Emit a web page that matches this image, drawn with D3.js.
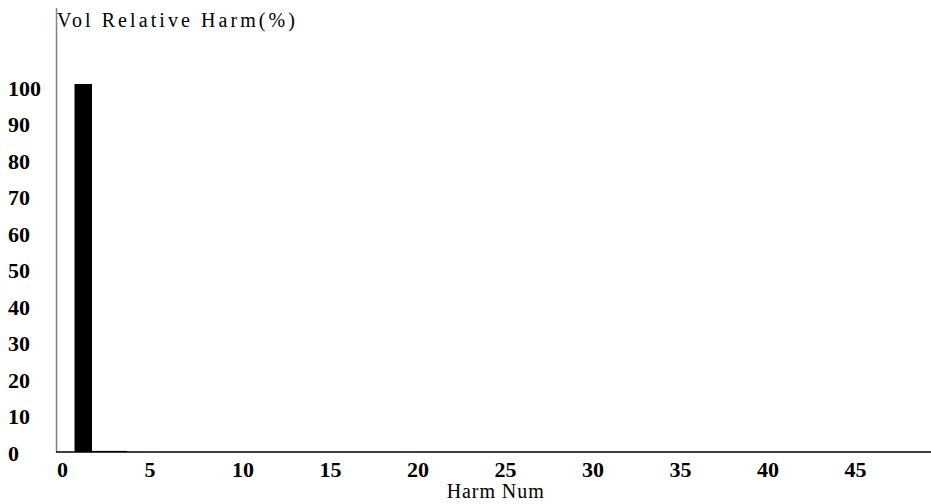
<!DOCTYPE html>
<html><head><meta charset="utf-8">
<script src="https://cdn.jsdelivr.net/npm/d3@7"></script>
<style>body{margin:0;background:#fff}svg{display:block}</style>
</head><body>
<svg id="c" width="931" height="504"></svg>
<script>
const harmonics = [0,1,2,3,4,5,6,7,8,9,10,11,12,13,14,15,16,17,18,19,20,21,22,23,24,25,26,27,28,29,30,31,32,33,34,35,36,37,38,39,40,41,42,43,44,45,46,47,48,49];
const relativeHarm = [0,100.7,0.3,0.3,0,0,0,0,0,0,0,0,0,0,0,0,0,0,0,0,0,0,0,0,0,0,0,0,0,0,0,0,0,0,0,0,0,0,0,0,0,0,0,0,0,0,0,0,0,0];
const xTickLabels = [0,5,10,15,20,25,30,35,40,45];
const yTickLabels = [0,10,20,30,40,50,60,70,80,90,100];
const yTitle = "Vol Relative Harm(%)";
const xTitle = "Harm Num";

const svg = d3.select("#c");
const font = "'Liberation Serif', serif";
const x = d3.scaleBand().domain(harmonics).range([56, 931]).padding(0);
const y = d3.scaleLinear().domain([0, 121.5]).range([452, 8]);

svg.append("g").selectAll("rect").data(harmonics.map((h,i)=>({h, v: relativeHarm[i]})).filter(d=>d.v>0))
  .join("rect")
  .attr("x", d => x(d.h) + 1)
  .attr("width", x.bandwidth())
  .attr("y", d => y(d.v))
  .attr("height", d => y(0) - y(d.v))
  .attr("fill", "#000");

// y axis line
svg.append("line").attr("x1",56.5).attr("x2",56.5).attr("y1",8).attr("y2",452).attr("stroke","#808080").attr("stroke-width",1.5);
// x axis line
svg.append("line").attr("x1",56).attr("x2",931).attr("y1",452).attr("y2",452).attr("stroke","#000").attr("stroke-width",1.5);

svg.append("g").selectAll("text").data(yTickLabels).join("text")
  .attr("x", 8).attr("y", d => y(d) + 9)
  .attr("font-family", font).attr("font-size", 22).attr("font-weight","bold")
  .attr("fill","#000").text(d => d);

svg.append("g").selectAll("text").data(xTickLabels).join("text")
  .attr("x", d => x(d) + 1).attr("y", 477)
  .attr("font-family", font).attr("font-size", 22).attr("font-weight","bold")
  .attr("fill","#000").text(d => d);

svg.append("text").attr("x", 57).attr("y", 27)
  .attr("font-family", font).attr("font-size", 20)
  .attr("textLength", 238).attr("lengthAdjust","spacing")
  .attr("fill","#000").text(yTitle);

svg.append("text").attr("x", 446.7).attr("y", 498)
  .attr("font-family", font).attr("font-size", 20)
  .attr("textLength", 97).attr("lengthAdjust","spacing")
  .attr("fill","#000").text(xTitle);
</script>
</body></html>
